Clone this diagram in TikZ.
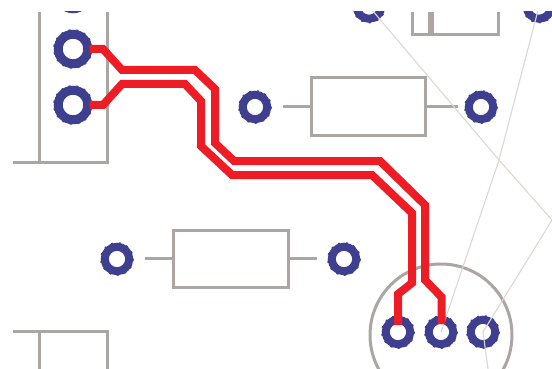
\documentclass[tikz,border=0pt]{standalone}
\definecolor{padblue}{HTML}{3F3F8F}
\definecolor{outline}{HTML}{ABA5A3}
\definecolor{ratsnest}{HTML}{DCD8D3}
\definecolor{copper}{HTML}{EE1C25}
\tikzset{
  padsmall/.style={circle,draw=padblue,line width=8pt,minimum size=24.5pt,inner sep=0pt},
  padbig/.style={circle,draw=padblue,line width=9pt,minimum size=29.5pt,inner sep=0pt},
  bumps/.style={draw=padblue,line width=1.3pt,dash pattern=on 2.2pt off 5.6pt},
  body/.style={draw=outline,line width=3pt,line join=miter},
  lead/.style={draw=outline,line width=3pt},
  air/.style={draw=ratsnest,line width=1.1pt},
  track/.style={draw=copper,line width=8pt,line join=miter},
  resistor/.style={rectangle,draw=outline,line width=3pt,inner sep=0pt}
}
\begin{document}
\begin{tikzpicture}[x=1pt,y=-1pt]
\useasboundingbox (0,0) rectangle (552,369);
\clip (0,12) rectangle (552,369);
% named places
\coordinate (jt) at (369,6.5);
\coordinate (kt) at (539,6.5);
\coordinate (q1) at (398,332);
\coordinate (q2) at (441,332);
\coordinate (q3) at (483,332);
\coordinate (kink) at (552,220);
\coordinate (cross) at (499,160);
\coordinate (qout) at (488,369);
% outlines
\draw[body] (107,12) -- (107,162) -- (13,162);
\draw[body] (39.5,12) -- (39.5,162);
\draw[body] (13,331) -- (107,331) -- (107,369);
\draw[body] (39.5,331) -- (39.5,369);
\draw[body] (412,12) -- (412,35) -- (498,35) -- (498,12);
\draw[draw=outline,line width=5.5pt] (431,12) -- (431,35);
\node[resistor,minimum width=114pt,minimum height=57pt] (r1) at (368,106.5) {};
\node[resistor,minimum width=115pt,minimum height=57pt] (r2) at (230.5,258.5) {};
\coordinate (r1l) at (283,106.5);
\coordinate (r1r) at (458,106.5);
\coordinate (r2l) at (145,258.5);
\coordinate (r2r) at (317,258.5);
\draw[lead] (r1l) -- (r1.west);
\draw[lead] (r1.east) -- (r1r);
\draw[lead] (r2l) -- (r2.west);
\draw[lead] (r2.east) -- (r2r);
\node[circle,draw=outline,line width=3pt,minimum size=142pt,inner sep=0pt] (can) at (441,335) {};
% pads
\node[padbig] (p0) at (73,-6) {};
\node[padbig] (p1) at (73,49) {};
\node[padbig] (p2) at (73,105) {};
\node[padsmall] (p3) at (255,107) {};
\node[padsmall] (p4) at (481,107) {};
\node[padsmall] (p5) at (117,259) {};
\node[padsmall] (p6) at (344,259) {};
\node[padsmall] (p7) at (jt) {};
\node[padsmall] (p8) at (kt) {};
\node[padsmall] (p9) at (q1) {};
\node[padsmall] (p10) at (q2) {};
\node[padsmall] (p11) at (q3) {};
\foreach \p in {p1,p2} \draw[bumps] (\p.center) circle (19.2);
\foreach \p in {p3,p4,p5,p6,p7,p8,p9,p10,p11} \draw[bumps] (\p.center) circle (16.2);
% ratsnest
\draw[air] (jt) -- (cross) -- (kink) -- (p11.center) -- (qout);
\draw[air] (kt) -- (cross) -- (p10.center);
% tracks
\draw[track] (p1.east) ++(-3,0) -- (103,49) -- (122,70) -- (195,70) -- (215,89) -- (215,143) -- (234,161) -- (380,161) -- (425,205) -- (425,280) -- (441.5,297) -- (441.5,324);
\draw[track] (p2.east) ++(-3,0) -- (103,105) -- (122,84) -- (185,84) -- (201,101) -- (201,146) -- (232,175) -- (372,175) -- (412,213) -- (412,283) -- (398,294) -- (398,325);
\end{tikzpicture}
\end{document}
